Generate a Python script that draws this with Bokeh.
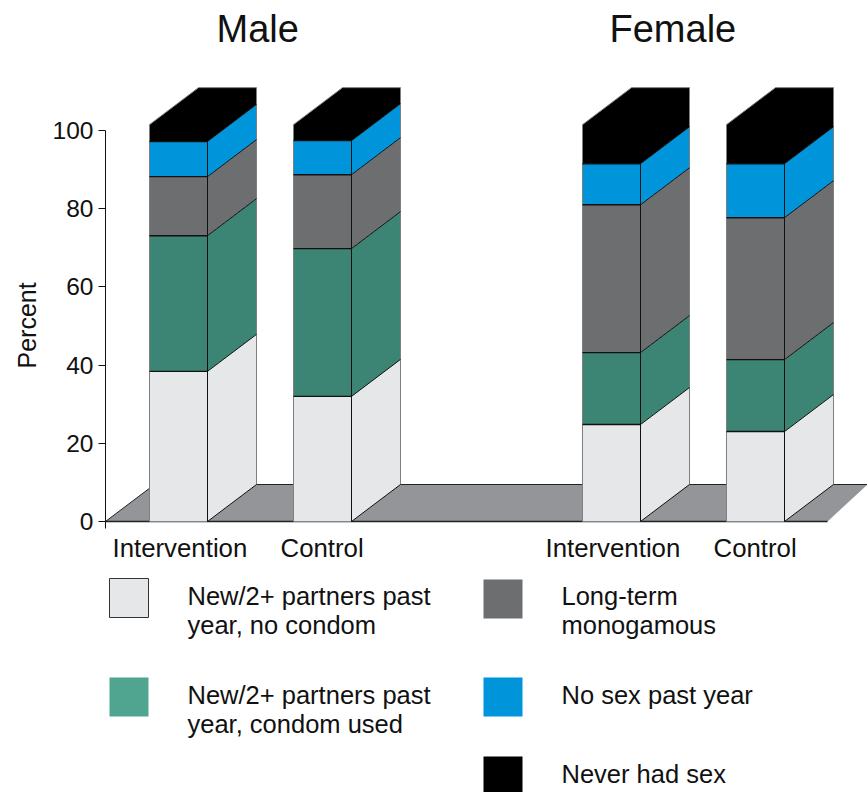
from bokeh.plotting import figure
from bokeh.models import Range1d, LinearAxis, FixedTicker, Title
from bokeh.core.properties import value
from bokeh.embed import file_html
from bokeh.resources import INLINE

groups = ["Intervention", "Control", "Intervention", "Control"]
panels = ["Male", "Female"]
series = ["New/2+ partners past\nyear, no condom", "New/2+ partners past\nyear, condom used",
          "Long-term\nmonogamous", "No sex past year", "Never had sex"]
no_condom = [38.4, 32.0, 24.8, 23.0]
condom = [34.7, 37.8, 18.4, 18.4]
monogamous = [15.1, 18.9, 37.8, 36.3]
no_sex = [9.0, 8.7, 10.5, 13.8]
never = [4.3, 4.1, 10.0, 10.0]
ticks = [0, 20, 40, 60, 80, 100]

colors = ["#E6E7E8", "#3C8473", "#6D6E70", "#0095DA", "#000000"]
legend_colors = ["#E6E7E8", "#4FA58F", "#6D6E70", "#0095DA", "#000000"]
FONT = "Liberation Sans"
INK = "#111111"

# Coordinates: x is page pixels, y is percent with 3.91 px per unit, 0 at page y=521
PX = 3.91
def Y(py):
    return (521 - py) / PX

p = figure(width=867, height=792, output_backend="svg", toolbar_location=None,
           x_range=Range1d(105, 867), y_range=Range1d(Y(792), Y(0)),
           min_border_left=105, min_border_right=0, min_border_top=0, min_border_bottom=0,
           x_axis_location=None, y_axis_location=None)
p.outline_line_color = None
p.grid.visible = False

axis = LinearAxis(ticker=FixedTicker(ticks=ticks), bounds=(-1.8, 100))
axis.axis_line_color = INK
axis.axis_line_width = 1
axis.major_tick_line_color = INK
axis.major_tick_in = 0
axis.major_tick_out = 7
axis.minor_tick_line_color = None
axis.major_label_text_font = FONT
axis.major_label_text_font_size = "24.5px"
axis.major_label_text_color = INK
axis.major_label_standoff = 5
p.add_layout(axis, "left")

p.add_layout(Title(text="Percent", align="left", offset=424, standoff=17, text_font=FONT,
                   text_font_size="25px", text_font_style="normal", text_color=INK), "left")

# floor
DX, DY = 49, 37 / PX
p.patch([105, 105 + DX, 867, 827], [0, DY, DY, 0], fill_color="#939598", line_color=None)
p.line([105 + DX, 867], [DY, DY], line_color="#222222", line_width=1)
p.line([105, 827], [0, 0], line_color="#222222", line_width=1.6)
p.line([105, 105 + DX], [0, DY], line_color="#222222", line_width=1)

lefts = [149, 293, 582, 726]
W = 58
stacks = [no_condom, condom, monogamous, no_sex, never]
for i, x0 in enumerate(lefts):
    x1 = x0 + W
    x2 = x1 + DX
    bottom = 0.0
    for j, s in enumerate(stacks):
        top = bottom + s[i]
        c = colors[j]
        if j == 4:
            p.patch([x0, x1, x2, x2, x0 + DX, x0],
                    [bottom, bottom, bottom + DY, top + DY, top + DY, top],
                    fill_color=c, line_color=None)
            divider_top = bottom
        else:
            p.patch([x0, x1, x1, x0], [bottom, bottom, top, top], fill_color=c, line_color=None)
            p.patch([x1, x2, x2, x1], [bottom, bottom + DY, top + DY, top], fill_color=c, line_color=None)
        bottom = top
    total = bottom
    # outer edges
    p.line([x0, x0, x0 + DX, x2, x2], [0, total, total + DY, total + DY, DY],
           line_color="#7f7f7f", line_width=1)
    p.line([x1, x1], [0, divider_top], line_color=INK, line_width=1)
    p.line([x1, x2], [0, DY], line_color=INK, line_width=1)
    # horizontal dividers
    bottom = 0.0
    for j, s in enumerate(stacks[:-1]):
        bottom += s[i]
        p.line([x0, x1], [bottom, bottom], line_color=INK, line_width=1.4)
        p.line([x1, x2], [bottom, bottom + DY], line_color=INK, line_width=1)

def txt(x, py, s, size):
    p.text([x - 1], [Y(py - 0.37 * size)], text=[s], text_font=value(FONT), text_font_size=f"{size}px",
           text_align="left", text_baseline="alphabetic", text_color=INK)

# panel titles
txt(217, 43, panels[0], 38)
txt(610, 43, panels[1], 38)

# group labels
for x, g in zip([113, 281, 546, 714], groups):
    txt(x, 557, g, 25.8)

# legend
swatches = [(109, 578), (109, 677), (483, 579), (483, 677), (483, 756)]
label_x = [188, 188, 562, 562, 562]
label_y = [605, 704, 605, 704, 783]
for k, ((sx, sy), lx, ly) in enumerate(zip(swatches, label_x, label_y)):
    p.patch([sx, sx + 39, sx + 39, sx], [Y(sy), Y(sy), Y(sy + 39), Y(sy + 39)],
            fill_color=legend_colors[k], line_color="#333333" if k == 0 else None, line_width=1)
    for n, line in enumerate(series[k].split("\n")):
        txt(lx, ly + n * 28.5, line, 25.5)

open("out.html", "w").write(file_html(p, INLINE))
